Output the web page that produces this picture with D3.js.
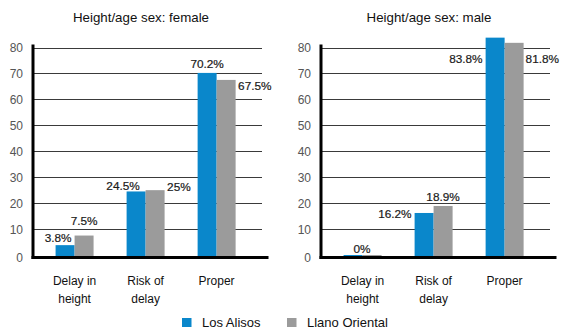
<!DOCTYPE html>
<html>
<head>
<meta charset="utf-8">
<script src="https://cdn.jsdelivr.net/npm/d3@7"></script>
<style>
  html, body { margin: 0; padding: 0; background: #fff; }
  svg { display: block; font-family: "Liberation Sans", Arial, sans-serif; }
</style>
</head>
<body>
<svg id="chart" width="567" height="332"></svg>
<script>
// ---- data ----
const categories = [["Delay in", "height"], ["Risk of", "delay"], ["Proper"]];
const categoryKeys = ["Delay in height", "Risk of delay", "Proper"];
const seriesNames = ["Los Alisos", "Llano Oriental"];
const yTicks = [0, 10, 20, 30, 40, 50, 60, 70, 80];

const femaleTitle = "Height/age sex: female";
const femaleAlisos = [3.8, 24.5, 70.2];
const femaleLlano = [7.5, 25, 67.5];
const femaleLabelsAlisos = ["3.8%", "24.5%", "70.2%"];
const femaleLabelsLlano = ["7.5%", "25%", "67.5%"];

const maleTitle = "Height/age sex: male";
const maleAlisos = [0, 16.2, 83.8];
const maleLlano = [0, 18.9, 81.8];
const maleLabelsAlisos = ["0%", "16.2%", "83.8%"];
const maleLabelsLlano = ["", "18.9%", "81.8%"];

// ---- layout / style ----
const colors = ["#0a87cb", "#9b9b9b"];
// label placement: at = c (centre of bar), l (left of bar), r (right of bar)
const femaleLabelLayout = [
  [{at: "c", dx: -7, dy: -3}, {at: "c", dx: -13, dy: -1.5}, {at: "c", dx: 0, dy: -4.5}],
  [{at: "c", dx: 0, dy: -10.5}, {at: "r", dx: 2.5, dy: 1}, {at: "r", dx: 2.5, dy: 10}]
];
const maleLabelLayout = [
  [{at: "c", dx: 9, dy: -2.5}, {at: "l", dx: -3, dy: 5.5}, {at: "l", dx: -3, dy: 25}],
  [{at: "c", dx: 0, dy: 0}, {at: "c", dx: 0, dy: -5}, {at: "r", dx: 2, dy: 20}]
];

const svg = d3.select("#chart");
const y = d3.scaleLinear().domain([0, 80]).range([255, 47.5]);

function drawPanel(axisX, title, alisos, llano, labA, labL, layout) {
  const g = svg.append("g");
  const gridEnd = axisX + 229;
  const baseEnd = axisX + 235.5;

  const x0 = d3.scaleBand().domain(categoryKeys)
    .range([axisX, axisX + 225.2]).paddingInner(0.465).paddingOuter(0.318);
  const x1 = d3.scaleBand().domain(seriesNames).range([0, x0.bandwidth()]);

  // title
  g.append("text").attr("x", axisX + 108).attr("y", 21.5)
    .attr("text-anchor", "middle").attr("font-size", 13.3).attr("fill", "#111")
    .text(title);

  // gridlines
  g.selectAll(".grid").data(yTicks.filter(d => d > 0)).join("line")
    .attr("x1", axisX).attr("x2", gridEnd)
    .attr("y1", d => Math.round(y(d)) + 0.5).attr("y2", d => Math.round(y(d)) + 0.5)
    .attr("stroke", "#3a3a3a").attr("stroke-width", 1);

  // tick labels
  g.selectAll(".tick").data(yTicks).join("text")
    .attr("x", axisX - 10).attr("y", d => d === 0 ? y(d) + 6.5 : y(d) + 4.5)
    .attr("text-anchor", "end").attr("font-size", 12).attr("fill", "#555")
    .text(d => d);

  // bars
  const seriesVals = [alisos, llano];
  seriesVals.forEach((vals, si) => {
    g.selectAll(".bar" + si).data(vals).join("rect")
      .attr("x", (d, i) => x0(categoryKeys[i]) + x1(seriesNames[si]))
      .attr("width", x1.bandwidth())
      .attr("y", d => y(d))
      .attr("height", d => y(0) - y(d) + 1)
      .attr("fill", colors[si]);
  });

  // value labels
  const labels = [labA, labL];
  labels.forEach((labs, si) => {
    labs.forEach((t, i) => {
      if (!t) return;
      const L = layout[si][i];
      const bx = x0(categoryKeys[i]) + x1(seriesNames[si]);
      const bw = x1.bandwidth();
      let xx, anchor;
      if (L.at === "c") { xx = bx + bw / 2 + L.dx; anchor = "middle"; }
      else if (L.at === "l") { xx = bx + L.dx; anchor = "end"; }
      else { xx = bx + bw + L.dx; anchor = "start"; }
      g.append("text").attr("x", xx).attr("y", y(seriesVals[si][i]) + L.dy)
        .attr("text-anchor", anchor).attr("font-size", 11.8).attr("fill", "#1a1a1a")
        .attr("stroke", "#1a1a1a").attr("stroke-width", 0.2)
        .text(t);
    });
  });

  // axes (thick)
  g.append("line").attr("x1", axisX).attr("x2", axisX)
    .attr("y1", 44.5).attr("y2", 259).attr("stroke", "#000").attr("stroke-width", 3);
  g.append("line").attr("x1", axisX - 1.5).attr("x2", baseEnd)
    .attr("y1", 257.5).attr("y2", 257.5).attr("stroke", "#000").attr("stroke-width", 3);

  // category labels
  categories.forEach((lines, i) => {
    const cx = x0(categoryKeys[i]) + x0.bandwidth() / 2;
    const t = g.append("text").attr("x", cx).attr("y", 285)
      .attr("text-anchor", "middle").attr("font-size", 12).attr("fill", "#111");
    lines.forEach((ln, j) => {
      t.append("tspan").attr("x", cx).attr("dy", j === 0 ? 0 : 17.5).text(ln);
    });
  });
}

drawPanel(33, femaleTitle, femaleAlisos, femaleLlano, femaleLabelsAlisos, femaleLabelsLlano, femaleLabelLayout);
drawPanel(321, maleTitle, maleAlisos, maleLlano, maleLabelsAlisos, maleLabelsLlano, maleLabelLayout);

// legend
const legendX = [182, 287];
const legend = svg.append("g");
seriesNames.forEach((name, i) => {
  legend.append("rect").attr("x", legendX[i]).attr("y", 318)
    .attr("width", 9.5).attr("height", 9).attr("fill", colors[i]);
  legend.append("text").attr("x", legendX[i] + 20).attr("y", 327)
    .attr("font-size", 13).attr("fill", "#111").text(name);
});
</script>
</body>
</html>
